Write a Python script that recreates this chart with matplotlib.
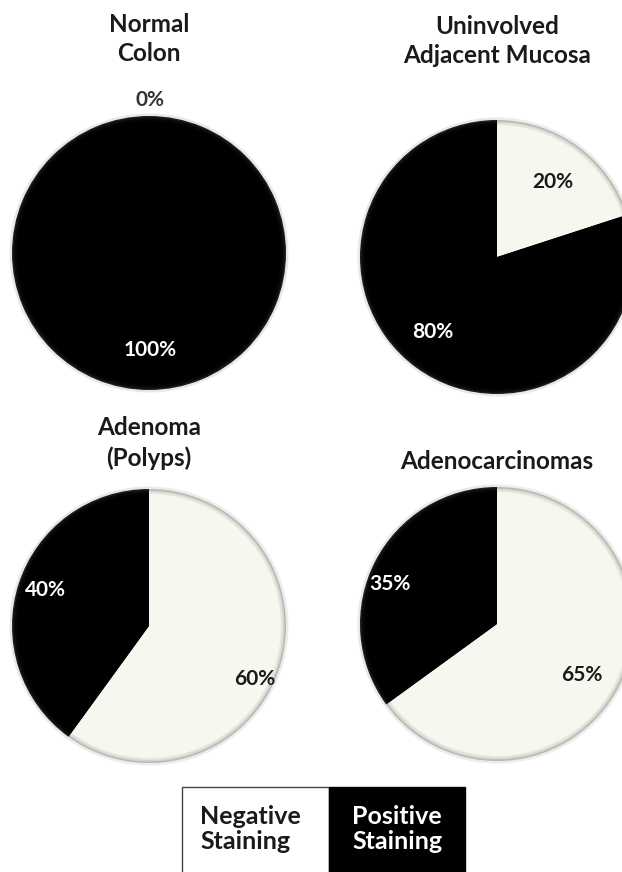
import matplotlib
matplotlib.use("Agg")
import matplotlib.pyplot as plt
from matplotlib.patches import Rectangle

# Share of samples by staining result, per tissue type
groups = ["Normal\nColon", "Uninvolved\nAdjacent Mucosa", "Adenoma\n(Polyps)", "Adenocarcinomas"]
negative_pct = [0, 20, 60, 65]
positive_pct = [100, 80, 40, 35]
legend_labels = ["Negative\nStaining", "Positive\nStaining"]

NEG_COLOR = "#f7f7ef"
POS_COLOR = "#000000"

W, H = 622, 872
fig = plt.figure(figsize=(W / 100, H / 100), dpi=100)
ax = fig.add_axes([0, 0, 1, 1])

FONT = ["Lato", "DejaVu Sans"]


def up(y):
    """Convert a top-down pixel row into the upward data coordinate."""
    return H - y


# Layout: pie centre (x, row from top), radius, title row, label positions (px)
layout = [
    dict(c=(149, 253), r=137, title_y=39,
         lab=[(150, 100), (150, 350)]),
    dict(c=(497, 257), r=137, title_y=41,
         lab=[(553, 182), (433, 332)]),
    dict(c=(149, 626), r=137, title_y=443,
         lab=[(255, 679), (45, 590)]),
    dict(c=(497, 624), r=137, title_y=462,
         lab=[(582, 675), (390, 584)]),
]

# Rim shading layers: (radius shrink in px, negative colour, positive colour)
rim = [
    (-2.5, "#ececec", "#e8e8e8"),
    (0.0, "#b9b9b2", "#1c1c1c"),
    (1.5, "#d4d4cc", "#0d0d0d"),
    (3.0, "#e6e6de", "#050505"),
    (5.0, NEG_COLOR, POS_COLOR),
]

for i, g in enumerate(groups):
    L = layout[i]
    cx, cy = L["c"][0], up(L["c"][1])
    r = L["r"]
    vals = [negative_pct[i], positive_pct[i]]
    for shrink, nc, pc in rim:
        ax.pie(vals, colors=[nc, pc], startangle=90, counterclock=False,
               center=(cx, cy), radius=r - shrink, frame=True,
               wedgeprops=dict(linewidth=0))
    # percentage labels
    for (lx, ly), v, tc in zip(L["lab"], vals, ["#1a1a1a", "white"]):
        color = "#333333" if (i == 0 and v == 0) else tc
        ax.text(lx, up(ly), f"{v}%", ha="center", va="center",
                fontsize=15, fontweight="bold", color=color, family=FONT,
                zorder=10)
    ax.text(cx, up(L["title_y"]), g, ha="center", va="center",
            fontsize=17.5, fontweight="bold", color="#1a1a1a",
            family=FONT, linespacing=1.35)

# Legend boxes at the bottom
box_top = up(787)
box_h = 95
ax.add_patch(Rectangle((182, box_top - box_h), 147, box_h, facecolor="white",
                       edgecolor="#444444", linewidth=1.0, zorder=5))
ax.add_patch(Rectangle((329, box_top - box_h), 136, box_h, facecolor="black",
                       edgecolor="black", linewidth=1.0, zorder=5))
ax.text(200, up(829), legend_labels[0], ha="left", va="center", fontsize=18,
        fontweight="bold", color="#1a1a1a", family=FONT, linespacing=1.1, zorder=6)
ax.text(352, up(829), legend_labels[1], ha="left", va="center", fontsize=18,
        fontweight="bold", color="white", family=FONT, linespacing=1.1, zorder=6)

ax.set_xlim(0, W)
ax.set_ylim(0, H)
ax.set_aspect("equal")
ax.axis("off")

fig.savefig("out.png", dpi=100, facecolor="white")
